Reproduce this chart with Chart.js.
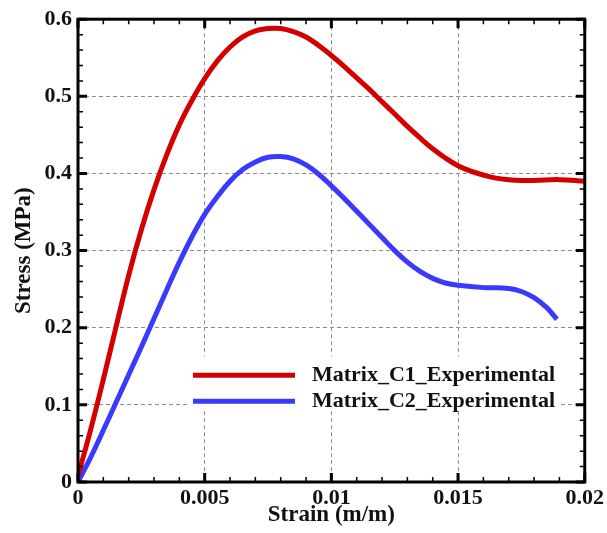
<!DOCTYPE html>
<html>
<head>
<meta charset="utf-8">
<script src="https://cdn.jsdelivr.net/npm/chart.js@4/dist/chart.umd.min.js"></script>
<style>
  html, body { margin: 0; padding: 0; background: #ffffff; }
  #wrap { width: 607px; height: 533px; position: relative; }
</style>
</head>
<body>
<div id="wrap"><canvas id="c" width="607" height="533"></canvas></div>
<script>
// ---- data ----
const seriesNames = ['Matrix_C1_Experimental', 'Matrix_C2_Experimental'];

const c1Strain = [0, 0.0005, 0.001, 0.0015, 0.002, 0.0025, 0.003, 0.0035, 0.004, 0.0045,
                  0.005, 0.0055, 0.006, 0.0065, 0.007, 0.0075, 0.008, 0.0085, 0.009, 0.0095,
                  0.010, 0.0105, 0.011, 0.0115, 0.012, 0.0125, 0.013, 0.0135, 0.014, 0.0145,
                  0.015, 0.0155, 0.016, 0.0165, 0.017, 0.0175, 0.018, 0.019, 0.020];
const c1Stress = [0.008, 0.068, 0.133, 0.201, 0.268, 0.327, 0.379, 0.424, 0.463, 0.495,
                  0.523, 0.546, 0.564, 0.577, 0.585, 0.588, 0.588, 0.584, 0.577, 0.566,
                  0.553, 0.539, 0.524, 0.509, 0.493, 0.477, 0.461, 0.446, 0.432, 0.420,
                  0.410, 0.403, 0.398, 0.394, 0.392, 0.391, 0.391, 0.392, 0.390];

const c2Strain = [0, 0.0005, 0.001, 0.0015, 0.002, 0.0025, 0.003, 0.0035, 0.004, 0.0045,
                  0.005, 0.0055, 0.006, 0.0065, 0.007, 0.0075, 0.008, 0.0085, 0.009, 0.0095,
                  0.010, 0.0105, 0.011, 0.0115, 0.012, 0.0125, 0.013, 0.0135, 0.014, 0.0145,
                  0.015, 0.016, 0.017, 0.0175, 0.018, 0.0185, 0.0189];
const c2Stress = [0, 0.032, 0.067, 0.103, 0.139, 0.175, 0.212, 0.249, 0.285, 0.318,
                  0.347, 0.370, 0.390, 0.405, 0.415, 0.421, 0.422, 0.419, 0.411, 0.399,
                  0.384, 0.368, 0.351, 0.334, 0.317, 0.300, 0.285, 0.273, 0.264, 0.258,
                  0.255, 0.252, 0.251, 0.247, 0.239, 0.226, 0.211];

const xTickLabels = ['0', '0.005', '0.01', '0.015', '0.02'];
const yTickLabels = ['0', '0.1', '0.2', '0.3', '0.4', '0.5', '0.6'];
const xMinorStep = 0.001;
const yMinorStep = 0.02;

const seriesColors = ['#d40000', '#3a3aff'];
const FONT = "'Liberation Serif', 'Times New Roman', serif";

function toPoints(xs, ys) { return xs.map((x, i) => ({ x: x, y: ys[i] })); }

// ---- plugins ----
const framePlugin = {
  id: 'frame',
  afterDraw(chart) {
    const { ctx, chartArea: a, scales: { x, y } } = chart;
    ctx.save();
    ctx.strokeStyle = '#000';
    const xMin = x.min, xMax = x.max, yMin = y.min, yMax = y.max;
    const nx = Math.round((xMax - xMin) / xMinorStep);
    for (let i = 0; i <= nx; i++) {
      const px = x.getPixelForValue(xMin + i * xMinorStep);
      const major = i % 5 === 0;
      const len = major ? 9 : 5;
      ctx.lineWidth = major ? 3 : 1.5;
      ctx.beginPath();
      ctx.moveTo(px, a.bottom); ctx.lineTo(px, a.bottom - len);
      ctx.moveTo(px, a.top); ctx.lineTo(px, a.top + len);
      ctx.stroke();
    }
    const ny = Math.round((yMax - yMin) / yMinorStep);
    for (let i = 0; i <= ny; i++) {
      const py = y.getPixelForValue(yMin + i * yMinorStep);
      const major = i % 5 === 0;
      const len = major ? 9 : 5;
      ctx.lineWidth = major ? 3 : 1.5;
      ctx.beginPath();
      ctx.moveTo(a.left, py); ctx.lineTo(a.left + len, py);
      ctx.moveTo(a.right, py); ctx.lineTo(a.right - len, py);
      ctx.stroke();
    }
    ctx.lineWidth = 3;
    ctx.strokeRect(a.left, a.top, a.right - a.left, a.bottom - a.top);
    ctx.restore();
  }
};

const legendBox = { dx: 112, dy: 337, w: 368, h: 55, lineX1: 115, lineX2: 217, textX: 234, rowY: [356, 382] };

const legendPlugin = {
  id: 'customLegend',
  beforeDatasetsDraw(chart) {
    const { ctx, chartArea: a } = chart;
    ctx.save();
    ctx.fillStyle = '#ffffff';
    ctx.fillRect(a.left + legendBox.dx, a.top + legendBox.dy, legendBox.w, legendBox.h);
    ctx.restore();
  },
  afterDraw(chart) {
    const { ctx, chartArea: a } = chart;
    ctx.save();
    chart.data.datasets.forEach((ds, i) => {
      const yy = a.top + legendBox.rowY[i];
      ctx.strokeStyle = ds.borderColor;
      ctx.lineWidth = 5;
      ctx.beginPath();
      ctx.moveTo(a.left + legendBox.lineX1, yy);
      ctx.lineTo(a.left + legendBox.lineX2, yy);
      ctx.stroke();
      ctx.fillStyle = '#111';
      ctx.font = "bold 22px " + FONT;
      ctx.textBaseline = 'middle';
      ctx.textAlign = 'left';
      ctx.fillText(ds.label, a.left + legendBox.textX, yy);
    });
    ctx.restore();
  }
};

new Chart(document.getElementById('c'), {
  type: 'line',
  data: {
    datasets: [
      { label: seriesNames[0], data: toPoints(c1Strain, c1Stress), borderColor: seriesColors[0], backgroundColor: seriesColors[0] },
      { label: seriesNames[1], data: toPoints(c2Strain, c2Stress), borderColor: seriesColors[1], backgroundColor: seriesColors[1] }
    ]
  },
  options: {
    responsive: false,
    animation: false,
    devicePixelRatio: 1,
    layout: { padding: { top: 16, right: 22, left: 0, bottom: 0 } },
    elements: {
      point: { radius: 0 },
      line: { borderWidth: 5, tension: 0.4, fill: false, borderCapStyle: 'butt', borderJoinStyle: 'round' }
    },
    plugins: { legend: { display: false }, tooltip: { enabled: false } },
    scales: {
      x: {
        type: 'linear', min: 0, max: 0.02,
        afterFit: s => { s.height = 51; },
        ticks: {
          stepSize: 0.005, padding: 3, color: '#111',
          font: { family: FONT, size: 22, weight: 'bold' },
          callback: (v, i) => xTickLabels[i]
        },
        grid: { color: '#8c8c8c', lineWidth: 1, drawTicks: false },
        border: { display: false, dash: [4, 3] },
        title: { display: true, text: 'Strain (m/m)', color: '#111', font: { family: FONT, size: 23, weight: 'bold' }, padding: { top: 0, bottom: 4 } }
      },
      y: {
        type: 'linear', min: 0, max: 0.6,
        afterFit: s => { s.width = 78; },
        ticks: {
          stepSize: 0.1, padding: 6, color: '#111',
          font: { family: FONT, size: 22, weight: 'bold' },
          callback: (v, i) => yTickLabels[i]
        },
        grid: { color: '#8c8c8c', lineWidth: 1, drawTicks: false },
        border: { display: false, dash: [4, 3] },
        title: { display: true, text: 'Stress (MPa)', color: '#111', font: { family: FONT, size: 23, weight: 'bold' }, padding: { top: 10, bottom: 0 } }
      }
    }
  },
  plugins: [legendPlugin, framePlugin]
});
</script>
</body>
</html>
